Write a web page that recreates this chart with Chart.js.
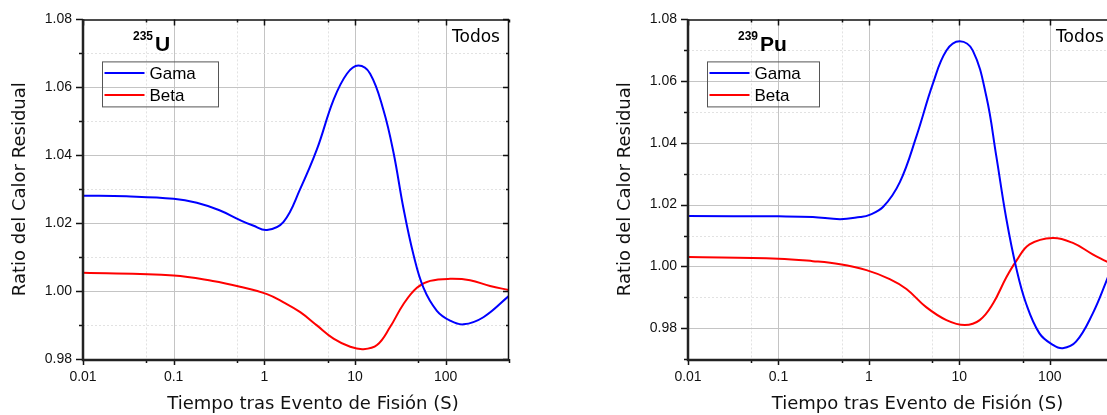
<!DOCTYPE html>
<html>
<head>
<meta charset="utf-8">
<script src="https://cdn.jsdelivr.net/npm/chart.js@4.4.1/dist/chart.umd.min.js"></script>
<style>
  html, body { margin: 0; padding: 0; background: #fff; overflow: hidden; width: 1107px; height: 415px; }
  .panel { position: absolute; top: 0; }
  #panelU { left: 0; }
  #panelPu { left: 590px; }
</style>
</head>
<body>
<div class="panel" id="panelU"><canvas id="chartU" width="560" height="415"></canvas></div>
<div class="panel" id="panelPu"><canvas id="chartPu" width="580" height="415"></canvas></div>
<script>
// time axis (s), log scale
const timeTicks = [0.01, 0.05, 0.1, 0.5, 1, 5, 10, 50, 100, 500];
const timeMajor = [0.01, 0.1, 1, 10, 100];
const uRatioTicks = [0.98, 0.99, 1.00, 1.01, 1.02, 1.03, 1.04, 1.05, 1.06, 1.07, 1.08];
const puRatioTicks = [0.97, 0.98, 0.99, 1.00, 1.01, 1.02, 1.03, 1.04, 1.05, 1.06, 1.07, 1.08];

// U-235
const uGamaT = [0.01, 0.03, 0.1, 0.18, 0.32, 0.54, 0.75, 1.07, 1.63, 2.49, 3.8, 5.8, 8.15, 10.9, 14.7, 20.6, 26.6, 34.3, 44.2, 56.9, 80, 112, 157, 261, 500];
const uGamaY = [1.0281, 1.0279, 1.0272, 1.0260, 1.0238, 1.0209, 1.0193, 1.0180, 1.0204, 1.0301, 1.0417, 1.0563, 1.0640, 1.0664, 1.0640, 1.0533, 1.0408, 1.0243, 1.0107, 1.0010, 0.9942, 0.9913, 0.9902, 0.9923, 0.9986];
const uBetaT = [0.01, 0.1, 0.27, 0.54, 1.07, 1.63, 2.49, 3.8, 5.8, 8.87, 12.4, 17.5, 24.4, 34.3, 48.2, 67.5, 112, 186, 309, 500];
const uBetaY = [1.0054, 1.0046, 1.0030, 1.0013, 0.9991, 0.9967, 0.9938, 0.9899, 0.9860, 0.9836, 0.9829, 0.9841, 0.9894, 0.9962, 1.0010, 1.0030, 1.0036, 1.0032, 1.0015, 1.0003];

// Pu-239
const puGamaT = [0.01, 0.1, 0.24, 0.48, 0.8, 1, 1.44, 2.2, 3.36, 5.1, 7.2, 10.1, 14.1, 19.9, 25.6, 33, 42.5, 54.8, 76.9, 108, 139, 195, 298, 417, 500];
const puGamaY = [1.0163, 1.0162, 1.0160, 1.0153, 1.0160, 1.0166, 1.0193, 1.0273, 1.0422, 1.0592, 1.0699, 1.0729, 1.0699, 1.0550, 1.0358, 1.0156, 0.9996, 0.9879, 0.9783, 0.9746, 0.9735, 0.9756, 0.9847, 0.9948, 1.0010];
const puBetaT = [0.01, 0.1, 0.24, 0.48, 0.94, 1.7, 2.6, 4.3, 7.2, 11.5, 16.8, 23.5, 33, 42.5, 59.7, 108, 180, 298, 417, 500];
const puBetaY = [1.0030, 1.0025, 1.0017, 1.0007, 0.9988, 0.9959, 0.9927, 0.9868, 0.9826, 0.9810, 0.9826, 0.9879, 0.9964, 1.0017, 1.0071, 1.0092, 1.0076, 1.0039, 1.0017, 1.0005];

const BLUE = '#0000ff';
const RED = '#ff0000';
const SANS = '"DejaVu Sans", sans-serif';
const ARIAL = '"Liberation Sans", Arial, sans-serif';

Chart.defaults.font.family = ARIAL;
Chart.defaults.color = '#111';

const isMajorRatio = v => Math.round(v * 100) % 2 === 0;

// grid, box frame with ticks, legend and labels
const framePlugin = {
	id: 'frame',
	beforeDatasetsDraw(chart, args, opts) {
		const { ctx, chartArea: a, scales: { x, y } } = chart;
		ctx.save();
		ctx.lineWidth = 1;
		timeTicks.forEach(v => {
			const px = Math.round(x.getPixelForValue(v)) + 0.5;
			if (px <= a.left + 1 || px >= a.right - 1) return;
			const major = timeMajor.includes(v);
			ctx.strokeStyle = major ? '#c4c4c4' : '#e2e2e2';
			ctx.setLineDash(major ? [] : [2, 2]);
			ctx.beginPath(); ctx.moveTo(px, a.top); ctx.lineTo(px, a.bottom); ctx.stroke();
		});
		opts.yTicks.forEach(v => {
			const py = Math.round(y.getPixelForValue(v)) + 0.5;
			if (py <= a.top + 1 || py >= a.bottom - 1) return;
			const major = isMajorRatio(v);
			ctx.strokeStyle = major ? '#c4c4c4' : '#e2e2e2';
			ctx.setLineDash(major ? [] : [2, 2]);
			ctx.beginPath(); ctx.moveTo(a.left, py); ctx.lineTo(a.right, py); ctx.stroke();
		});
		ctx.restore();
	},
	afterDraw(chart, args, opts) {
		const { ctx, chartArea: a, scales: { x, y } } = chart;
		ctx.save();
		ctx.setLineDash([]);
		ctx.strokeStyle = '#111';

		// tick marks: outward on left/bottom, inward on top/right
		ctx.lineWidth = 1.5;
		timeTicks.forEach(v => {
			const px = Math.round(x.getPixelForValue(v)) + 0.5;
			const major = timeMajor.includes(v);
			ctx.beginPath();
			ctx.moveTo(px, a.bottom); ctx.lineTo(px, a.bottom + (major ? 6 : 4));
			ctx.moveTo(px, a.top); ctx.lineTo(px, a.top + (major ? 6 : 3));
			ctx.stroke();
		});
		opts.yTicks.forEach(v => {
			const py = Math.round(y.getPixelForValue(v)) + 0.5;
			const major = isMajorRatio(v);
			ctx.beginPath();
			ctx.moveTo(a.left, py); ctx.lineTo(a.left - (major ? 7 : 4), py);
			ctx.moveTo(a.right, py); ctx.lineTo(a.right - (major ? 6 : 3), py);
			ctx.stroke();
		});

		// box
		ctx.lineWidth = 1.5;
		ctx.beginPath();
		ctx.moveTo(a.left, a.top + 0.5); ctx.lineTo(a.right, a.top + 0.5);
		ctx.moveTo(a.right - 0.5, a.top); ctx.lineTo(a.right - 0.5, a.bottom);
		ctx.stroke();
		ctx.lineWidth = 2.5;
		ctx.strokeStyle = '#222';
		ctx.beginPath();
		ctx.moveTo(a.left, a.top); ctx.lineTo(a.left, a.bottom + 1);
		ctx.lineTo(a.right, a.bottom + 1);
		ctx.stroke();

		// legend
		const lx = a.left + 19.5, ly = a.top + 42.5;
		ctx.lineWidth = 1;
		ctx.strokeStyle = '#555';
		ctx.strokeRect(lx, ly, opts.legendWidth, 45);
		ctx.font = '17px ' + ARIAL;
		ctx.textBaseline = 'middle';
		ctx.textAlign = 'left';
		chart.data.datasets.forEach((ds, i) => {
			const yy = ly + 11 + i * 22;
			ctx.strokeStyle = ds.borderColor;
			ctx.lineWidth = 2;
			ctx.beginPath(); ctx.moveTo(lx + 2, yy); ctx.lineTo(lx + 42, yy); ctx.stroke();
			ctx.fillStyle = '#000';
			ctx.fillText(ds.label, lx + 47, yy + 1);
		});

		// nuclide
		ctx.textBaseline = 'alphabetic';
		ctx.fillStyle = '#000';
		ctx.font = 'bold 12px ' + ARIAL;
		ctx.fillText(opts.mass, a.left + 50, a.top + 21);
		const mw = ctx.measureText(opts.mass).width;
		ctx.font = 'bold 21px ' + ARIAL;
		ctx.fillText(opts.element, a.left + 52 + mw, a.top + 32);

		ctx.font = '17px ' + SANS;
		ctx.fillText('Todos', a.right - 57, a.top + 23);

		// axis titles
		ctx.fillStyle = '#111';
		ctx.font = '18px ' + SANS;
		ctx.textAlign = 'center';
		ctx.fillText('Tiempo tras Evento de Fisión (S)', (a.left + a.right) / 2 + 17, chart.height - 6);
		ctx.translate(a.left - 63, (a.top + a.bottom) / 2);
		ctx.rotate(-Math.PI / 2);
		ctx.textBaseline = 'middle';
		ctx.fillText('Ratio del Calor Residual', 0, 0);
		ctx.restore();
	}
};

function toPoints(t, v) {
	return t.map((tt, i) => ({ x: tt, y: v[i] }));
}

function makeChart(id, cfg) {
	return new Chart(document.getElementById(id).getContext('2d'), {
		type: 'line',
		data: {
			datasets: [
				{ label: 'Gama', data: toPoints(cfg.gamaT, cfg.gamaY), borderColor: BLUE },
				{ label: 'Beta', data: toPoints(cfg.betaT, cfg.betaY), borderColor: RED },
			],
		},
		options: {
			responsive: false,
			animation: false,
			layout: { padding: { top: 15, right: cfg.padRight, left: 0, bottom: 0 } },
			elements: {
				point: { radius: 0 },
				line: { borderWidth: 2, tension: 0.4, fill: false },
			},
			plugins: {
				legend: { display: false },
				tooltip: { enabled: false },
				frame: { yTicks: cfg.yTicks, mass: cfg.mass, element: cfg.element, legendWidth: cfg.legendWidth },
			},
			scales: {
				x: {
					type: 'logarithmic',
					min: 0.01,
					max: 500,
					grid: { display: false, drawTicks: false },
					border: { display: false },
					afterBuildTicks: s => { s.ticks = timeTicks.map(v => ({ value: v })); },
					afterFit: s => { s.height = 56; },
					ticks: {
						autoSkip: false,
						maxRotation: 0,
						padding: 10,
						font: { size: 14 },
						color: '#111',
						callback: v => (timeMajor.includes(v) ? String(v) : ''),
					},
				},
				y: {
					type: 'linear',
					min: cfg.yTicks[0],
					max: cfg.yTicks[cfg.yTicks.length - 1],
					grid: { display: false, drawTicks: false },
					border: { display: false },
					afterBuildTicks: s => { s.ticks = cfg.yTicks.map(v => ({ value: v })); },
					afterFit: s => { s.width = cfg.axisWidth; },
					ticks: {
						autoSkip: false,
						padding: 11,
						font: { size: 14 },
						color: '#111',
						callback: v => (isMajorRatio(v) ? v.toFixed(2) : ''),
					},
				},
			},
		},
		plugins: [framePlugin],
	});
}

makeChart('chartU', {
	gamaT: uGamaT, gamaY: uGamaY, betaT: uBetaT, betaY: uBetaY,
	yTicks: uRatioTicks, mass: '235', element: 'U',
	axisWidth: 83, padRight: 51, legendWidth: 116,
});

makeChart('chartPu', {
	gamaT: puGamaT, gamaY: puGamaY, betaT: puBetaT, betaY: puBetaY,
	yTicks: puRatioTicks, mass: '239', element: 'Pu',
	axisWidth: 98, padRight: 57, legendWidth: 112,
});
</script>
</body>
</html>
